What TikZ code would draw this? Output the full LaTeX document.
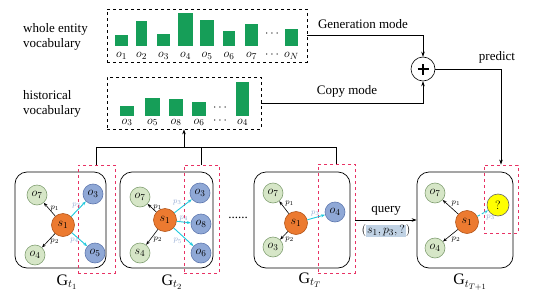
\documentclass[tikz,border=0pt]{standalone}
\usepackage{fontspec}
\setmainfont{Liberation Serif}
\usetikzlibrary{arrows.meta}
\definecolor{barG}{RGB}{22,158,88}
\definecolor{lgfill}{RGB}{214,230,199}
\definecolor{lgdraw}{RGB}{130,160,115}
\definecolor{bfill}{RGB}{143,168,214}
\definecolor{bdraw}{RGB}{95,120,175}
\definecolor{ofill}{RGB}{236,122,48}
\definecolor{odraw}{RGB}{180,85,25}
\definecolor{cyanE}{RGB}{30,200,220}
\definecolor{redD}{RGB}{232,50,100}
\definecolor{hlc}{RGB}{192,210,228}
\definecolor{labc}{RGB}{150,172,212}
\definecolor{yel}{RGB}{255,255,0}
\begin{document}
\begin{tikzpicture}[x=1pt,y=-1pt,
  txt/.style={font=\fontsize{13}{15}\selectfont},
  vbox/.style={draw, dashed, line width=0.8pt, inner sep=0pt},
  gbox/.style={draw, line width=0.7pt, rounded corners=12pt, inner sep=0pt},
  rbox/.style={draw=redD, dashed, line width=0.9pt, inner sep=0pt},
  gn/.style={circle, draw=lgdraw, fill=lgfill, line width=0.6pt, minimum size=20pt, inner sep=0pt, font=\fontsize{13}{14}\selectfont},
  bn/.style={circle, draw=bdraw, fill=bfill, line width=0.6pt, minimum size=20pt, inner sep=0pt, font=\fontsize{13}{14}\selectfont},
  sn/.style={circle, draw=odraw, fill=ofill, line width=0.6pt, minimum size=23pt, inner sep=0pt, font=\fontsize{13}{14}\selectfont},
  yn/.style={circle, draw=black!60, fill=yel, line width=0.6pt, minimum size=22pt, inner sep=0pt, font=\fontsize{12}{14}\selectfont},
  karr/.style={-{Stealth[length=4pt,width=3pt]}, line width=0.6pt, black},
  carr/.style={-{Stealth[length=4pt,width=3pt]}, line width=0.9pt, cyanE},
  pl/.style={font=\fontsize{8.5}{9}\selectfont, inner sep=1pt},
  cl/.style={font=\fontsize{8.5}{9}\selectfont, inner sep=1pt, text=labc},
  arr/.style={-{Stealth[length=5pt,width=3.5pt]}, line width=0.6pt},
  lin/.style={line width=0.6pt},
  bl/.style={font=\fontsize{13}{14}\selectfont, inner sep=0pt},
  gl/.style={font=\fontsize{16}{18}\selectfont}
]
\useasboundingbox (0,0) rectangle (554,300);

% ---------- vocabularies ----------
\node[txt, anchor=west, align=left, inner sep=0pt] (wtxt) at (23,36.5) {whole entity\\vocabulary};
\node[txt, anchor=west, align=left, inner sep=0pt] (htxt) at (23,103.5) {historical\\vocabulary};

\node[vbox, minimum width=200pt, minimum height=53pt] (whole) at (207,35.5) {};
\node[vbox, minimum width=154pt, minimum height=52pt] (hist) at (184,103) {};

\foreach \a/\b/\t in {115/128/35,136/147/21,157/170/34,178/193/13,200/214/20,223/235/31,245/258/24,285/298/29}
  \fill[barG] (\a,46) rectangle (\b,\t);
\foreach \x/\l in {121.5/o_1,141.5/o_2,163.5/o_3,185.5/o_4,207/o_5,229/o_6,251.5/o_7,291.5/o_N}
  \node[bl] at (\x,56) {$\l$};
\node[bl] (wd1) at (272,34) {$\cdots$};
\node[bl] (wd2) at (272,55) {$\cdots$};

\foreach \a/\b/\t in {120/134/106,145/160/98,169/183/99,192/206/102,236/249/82}
  \fill[barG] (\a,116) rectangle (\b,\t);
\foreach \x/\l in {127/o_3,152.5/o_5,176/o_8,199/o_6,242.5/o_4}
  \node[bl] at (\x,122.5) {$\l$};
\node[bl] (hd1) at (220,108) {$\cdots$};
\node[bl] (hd2) at (220,121) {$\cdots$};

% ---------- plus ----------
\node[circle, draw, line width=0.6pt, minimum size=24pt, inner sep=0pt] (plus) at (423,69) {};
\draw[line width=1.8pt] ([xshift=-5.5pt]plus.center) -- ([xshift=5.5pt]plus.center);
\draw[line width=1.8pt] ([yshift=-5.5pt]plus.center) -- ([yshift=5.5pt]plus.center);

\node[txt] (gen) at (363,24) {Generation mode};
\node[txt] (cop) at (347,91) {Copy mode};
\node[txt] (pred) at (497,57) {predict};

% ---------- graph boxes ----------
\node[gbox, minimum width=91pt, minimum height=96pt] (b1) at (60.5,220) {};
\node[gbox, minimum width=93pt, minimum height=96pt] (b2) at (166.5,220) {};
\node[gbox, minimum width=96pt, minimum height=96pt] (b3) at (302,220) {};
\node[gbox, minimum width=96pt, minimum height=96pt] (b4) at (465,220) {};

\node[rbox, minimum width=37pt, minimum height=108pt] (r1) at (96.5,219) {};
\node[rbox, minimum width=35pt, minimum height=108pt] (r2) at (201.5,219) {};
\node[rbox, minimum width=37pt, minimum height=109pt] (r3) at (336.5,218.5) {};
\node[rbox, minimum width=34pt, minimum height=68pt] (r4) at (501,199) {};

% ---------- connectors top ----------
\draw[arr] (whole.east) -| (plus.north);
\draw[arr] (hist.east) -| (plus.south);
\draw[arr] (plus.east) -| (r4.north);
\coordinate (j) at (hist.south |- 0,147);
\draw[lin] (r1.north) |- (r3.north |- j) -- (r3.north);
\draw[lin] (r2.north) -- (r2.north |- j);
\draw[arr] (j) -- (hist.south);

% ---------- graph 1 ----------
\node[sn] (s1a) at (63,225) {$s_1$};
\node[gn] (a7) at (37,195) {$o_7$};
\node[gn] (a4) at (35,255) {$o_4$};
\node[bn] (a3) at (93,194) {$o_3$};
\node[bn] (a5) at (95,253) {$o_5$};
\draw[karr] (s1a) -- node[pl, pos=0.6, right=1pt] {$p_1$} (a7);
\draw[karr] (s1a) -- node[pl, pos=0.6, right=2pt] {$p_2$} (a4);
\draw[carr] (s1a) -- node[cl, pos=0.75, left=0pt] {$p_3$} (a3);
\draw[carr] (s1a) -- node[cl, pos=0.55, left=0pt] {$p_4$} (a5);

% ---------- graph 2 ----------
\node[sn] (s1b) at (165,220) {$s_1$};
\node[gn] (b7) at (140,197) {$o_7$};
\node[gn] (b4s) at (140,253) {$s_4$};
\node[bn] (b3o) at (200,193) {$o_3$};
\node[bn] (b8) at (201,224) {$o_8$};
\node[bn] (b6) at (201,253) {$o_6$};
\draw[karr] (s1b) -- node[pl, pos=0.6, right=1pt] {$p_1$} (b7);
\draw[karr] (s1b) -- node[pl, pos=0.65, right=2pt] {$p_2$} (b4s);
\draw[carr] (s1b) -- node[cl, pos=0.5, above left=0pt] {$p_3$} (b3o);
\draw[carr] (s1b) -- node[cl, pos=0.5, above=0pt] {$p_4$} (b8);
\draw[carr] (s1b) -- node[cl, pos=0.5, below left=0pt] {$p_5$} (b6);

\node[txt] (dots) at (238,218) {......};

% ---------- graph 3 ----------
\node[sn] (s1c) at (296,223) {$s_1$};
\node[gn] (c7) at (273,193) {$o_7$};
\node[gn] (c3) at (273,247) {$o_3$};
\node[bn] (c4) at (335,212) {$o_4$};
\draw[karr] (s1c) -- node[pl, pos=0.5, above right=0pt] {$p_1$} (c7);
\draw[karr] (s1c) -- node[pl, pos=0.5, below right=0pt] {$p_2$} (c3);
\draw[carr] (s1c) -- node[cl, pos=0.45, above=0pt] {$p_3$} (c4);

% ---------- graph 4 ----------
\node[sn] (s1d) at (467,222) {$s_1$};
\node[gn] (d7) at (435,193) {$o_7$};
\node[gn] (d4) at (435,248) {$o_4$};
\node[yn] (dq) at (498,205) {$?$};
\draw[karr] (s1d) -- node[pl, pos=0.5, above right=0pt] {$p_1$} (d7);
\draw[karr] (s1d) -- node[pl, pos=0.5, below right=0pt] {$p_2$} (d4);
\draw[carr, densely dashed] (s1d) -- node[cl, pos=0.6, below right=1pt] {$p_3$} (dq);

% ---------- query ----------
\draw[arr] (r3.east |- b4.west) -- node[txt, above=1pt] {query}
  node[txt, below=1pt] {$($\setlength{\fboxsep}{1pt}\colorbox{hlc}{$s_1, p_3, ?$}$)$} (b4.west);

% ---------- graph labels ----------
\node[gl] (g1) at (67,282) {$\mathrm{G}_{t_1}$};
\node[gl] (g2) at (172,282) {$\mathrm{G}_{t_2}$};
\node[gl] (g3) at (310,280) {$\mathrm{G}_{t_T}$};
\node[gl] (g4) at (470,282) {$\mathrm{G}_{t_{T+1}}$};
\end{tikzpicture}
\end{document}
